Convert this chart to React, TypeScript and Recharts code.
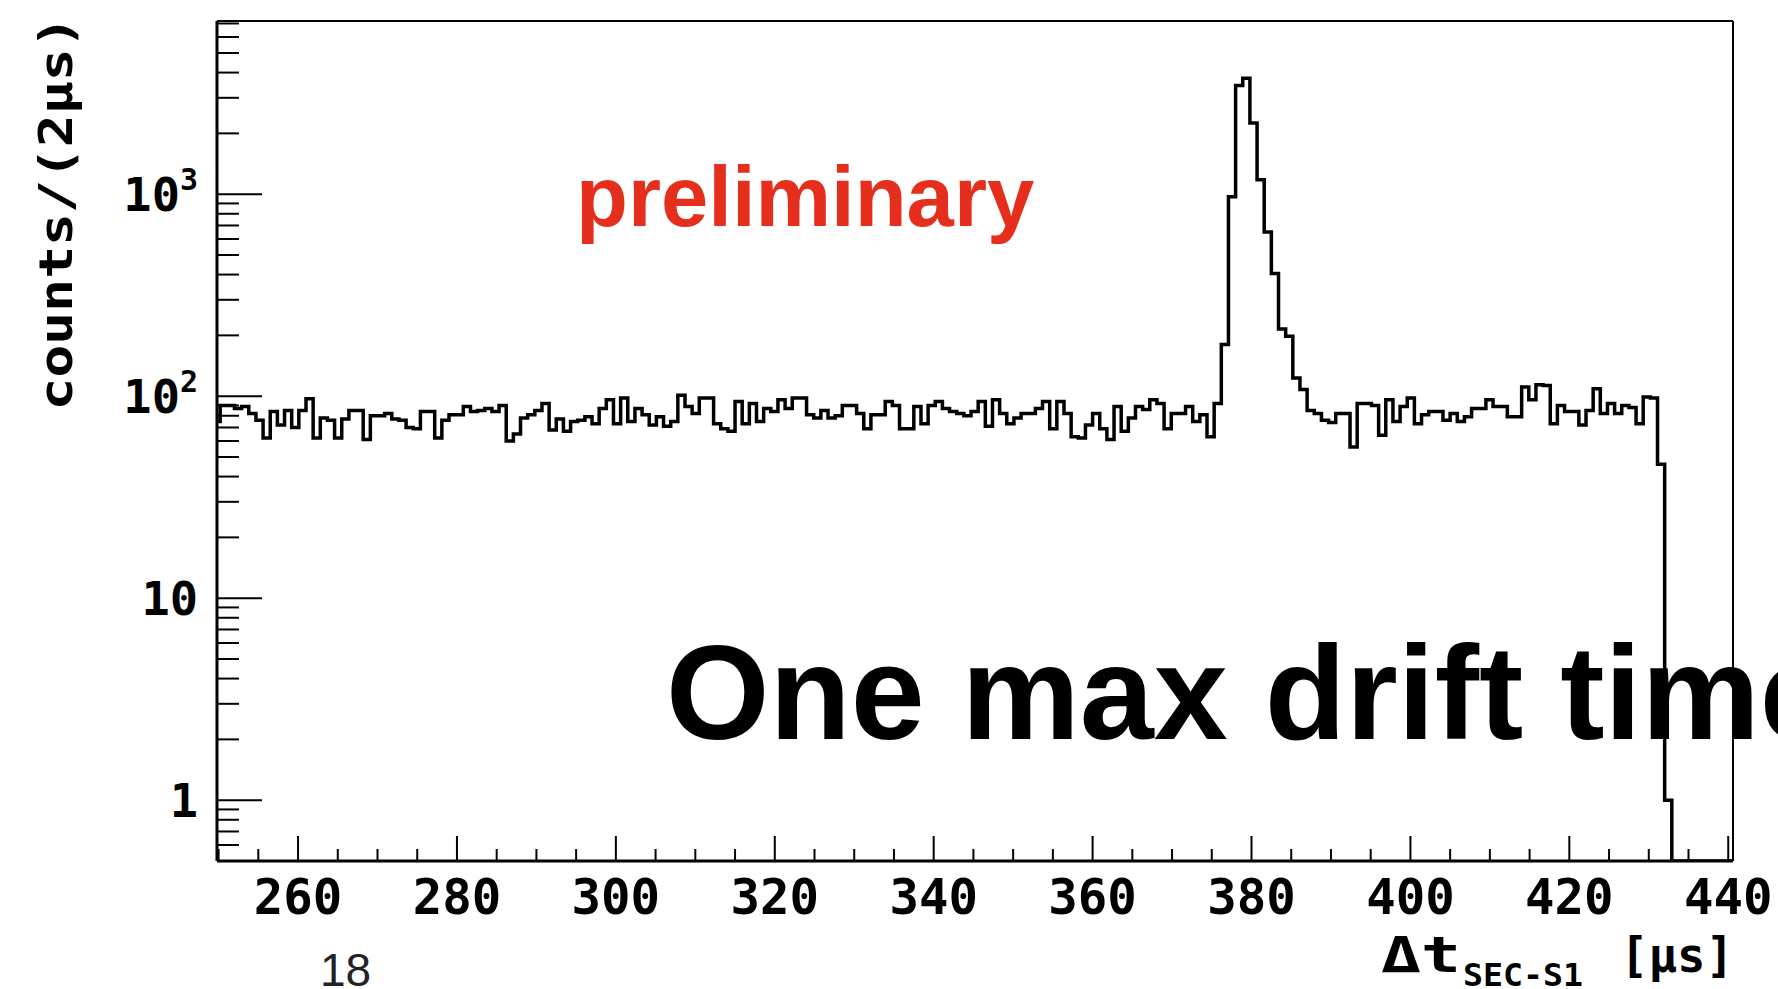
import React from 'react';
import { LineChart, Line, XAxis, YAxis, ReferenceLine } from 'recharts';

// Histogram: counts per bin (bin edges start at BIN_START, width BIN_WIDTH, in µs)
const BIN_START = 249.3;
const BIN_WIDTH = 0.9;
const counts = [
  75, 90, 90, 87, 89, 82, 76, 62, 84, 72,
  85, 70, 85, 97, 62, 78, 76, 62, 77, 85,
  85, 61, 80, 80, 82, 77, 76, 70, 69, 84,
  84, 62, 76, 81, 81, 89, 84, 85, 87, 84,
  90, 60, 65, 78, 81, 85, 92, 68, 77, 67,
  75, 76, 79, 73, 87, 96, 73, 98, 75, 87,
  81, 72, 79, 71, 75, 101, 89, 82, 98, 98,
  73, 69, 67, 94, 73, 92, 75, 87, 84, 96,
  87, 98, 98, 81, 78, 85, 78, 80, 90, 90,
  82, 69, 81, 81, 94, 90, 69, 69, 89, 73,
  90, 94, 87, 84, 82, 80, 84, 94, 71, 96,
  82, 73, 78, 82, 82, 87, 94, 69, 94, 82,
  63, 62, 72, 82, 69, 61, 89, 67, 78, 89,
  86, 96, 92, 69, 82, 82, 89, 75, 81, 63,
  92, 180, 970, 3450, 3750, 2250, 1180, 650, 405, 215,
  198, 123, 108, 85, 82, 76, 74, 82, 82, 56,
  92, 92, 90, 64, 96, 75, 89, 98, 73, 81,
  84, 84, 76, 82, 75, 79, 87, 87, 96, 89,
  89, 79, 79, 111, 96, 114, 113, 73, 90, 84,
  84, 72, 85, 109, 82, 92, 82, 90, 88, 73,
  99, 98, 46, 1, 0, 0, 0, 0, 0, 0,
  0, 0, 0,
];

const X_MIN = 249.8;
const X_MAX = 440.6;
const Y_MIN = 0.5;
const Y_MAX = 7200;

const xMajorTicks = [260, 280, 300, 320, 340, 360, 380, 400, 420, 440];
const xMinorTicks = [250, 255, 265, 270, 275, 285, 290, 295, 305, 310, 315, 325, 330, 335, 345, 350, 355, 365, 370, 375, 385, 390, 395, 405, 410, 415, 425, 430, 435];
const yMajorTicks = [1, 10, 100, 1000];
const yMajorLabels: Record<number, [string, string]> = { 1: ['1', ''], 10: ['10', ''], 100: ['10', '2'], 1000: ['10', '3'] };
const yMinorTicks = [0.6, 0.7, 0.8, 0.9, 2, 3, 4, 5, 6, 7, 8, 9, 20, 30, 40, 50, 60, 70, 80, 90, 200, 300, 400, 500, 600, 700, 800, 900, 2000, 3000, 4000, 5000, 6000, 7000];

const yAxisTitle = 'counts/(2µs)';
const xAxisTitleMain = 'Δt';
const xAxisTitleSub = 'SEC-S1';
const xAxisTitleUnit = '[µs]';
const annotation1 = 'preliminary';
const annotation2 = 'One max drift time';
const pageNumber = '18';

const rows = counts.map((c, i) => ({ t: BIN_START + i * BIN_WIDTH, c: Math.max(c, Y_MIN) }));
rows.push({ t: BIN_START + counts.length * BIN_WIDTH, c: Math.max(counts[counts.length - 1], Y_MIN) });

const MONO = '"DejaVu Sans Mono", monospace';
const SANS = '"Liberation Sans", Arial, sans-serif';

const XTick = (props: any) => {
  const { x, y, payload } = props;
  const v = payload.value;
  const major = xMajorTicks.includes(v);
  return (
    <g>
      <line x1={x} x2={x} y1={y} y2={y - (major ? 25 : 12)} stroke="#000" strokeWidth={2} />
      {major && (
        <text x={x} y={y + 53} textAnchor="middle" fontFamily={MONO} fontWeight="bold" fontSize={49} fill="#000">
          {v}
        </text>
      )}
    </g>
  );
};

const YTick = (props: any) => {
  const { x, y, payload } = props;
  const v = payload.value;
  const lab = yMajorLabels[v];
  const major = !!lab;
  return (
    <g>
      <line x1={x} x2={x + (major ? 45 : 22)} y1={y} y2={y} stroke="#000" strokeWidth={2} />
      {major && (
        <text x={198} y={y} dy={17} textAnchor="end" fontFamily={MONO} fontWeight="bold" fontSize={47} fill="#000">
          {lab[0]}
          {lab[1] && (
            <tspan fontSize={30} dy={-21}>{lab[1]}</tspan>
          )}
        </text>
      )}
    </g>
  );
};

export default function App() {
  return (
    <div style={{ position: 'absolute', left: 0, top: 0, width: 1778, height: 989, overflow: 'hidden', background: '#fff' }}>
      <LineChart width={1778} height={989} data={rows} margin={{ top: 21, right: 45, bottom: 0, left: 0 }}>
        <XAxis
          dataKey="t"
          type="number"
          domain={[X_MIN, X_MAX]}
          allowDataOverflow
          ticks={[...xMinorTicks, ...xMajorTicks].sort((a, b) => a - b)}
          interval={0}
          tick={<XTick />}
          tickLine={false}
          tickSize={0}
          tickMargin={0}
          height={128}
          axisLine={{ stroke: '#000', strokeWidth: 3 }}
        />
        <YAxis
          type="number"
          scale="log"
          domain={[Y_MIN, Y_MAX]}
          allowDataOverflow
          ticks={[...yMinorTicks, ...yMajorTicks].sort((a, b) => a - b)}
          interval={0}
          tick={<YTick />}
          tickLine={false}
          tickSize={0}
          tickMargin={0}
          width={217}
          axisLine={{ stroke: '#000', strokeWidth: 3 }}
        />
        <ReferenceLine y={Y_MAX} stroke="#000" strokeWidth={2} />
        <ReferenceLine x={X_MAX} stroke="#000" strokeWidth={2} />
        <Line
          type="stepAfter"
          dataKey="c"
          stroke="#000"
          strokeWidth={3.5}
          dot={false}
          activeDot={false}
          isAnimationActive={false}
          strokeLinejoin="miter"
        />
      </LineChart>
      <svg width={1778} height={989} style={{ position: 'absolute', left: 0, top: 0, pointerEvents: 'none' }}>
        <text
          x={72}
          y={213}
          transform="rotate(-90, 72, 213)"
          textAnchor="middle"
          fontFamily={MONO}
          fontWeight="bold"
          fontSize={47}
          textLength={395}
          lengthAdjust="spacingAndGlyphs"
          fill="#000"
        >
          {yAxisTitle}
        </text>
        <text x={1381} y={972} fontFamily={MONO} fontWeight="bold" fontSize={50} textLength={80} lengthAdjust="spacingAndGlyphs" fill="#000">
          {xAxisTitleMain}
        </text>
        <text x={1463} y={986} fontFamily={MONO} fontWeight="bold" fontSize={32} textLength={120} lengthAdjust="spacingAndGlyphs" fill="#000">
          {xAxisTitleSub}
        </text>
        <text x={1620} y={972} fontFamily={MONO} fontWeight="bold" fontSize={48} textLength={114} lengthAdjust="spacingAndGlyphs" fill="#000">
          {xAxisTitleUnit}
        </text>
        <text x={576} y={226} fontFamily={SANS} fontWeight="bold" fontSize={85} fill="#e62e1c">
          {annotation1}
        </text>
        <text x={666} y={739} fontFamily={SANS} fontWeight="bold" fontSize={133} fill="#000">
          {annotation2}
        </text>
        <text x={320} y={986} fontFamily={SANS} fontSize={46} fill="#222">
          {pageNumber}
        </text>
      </svg>
    </div>
  );
}
